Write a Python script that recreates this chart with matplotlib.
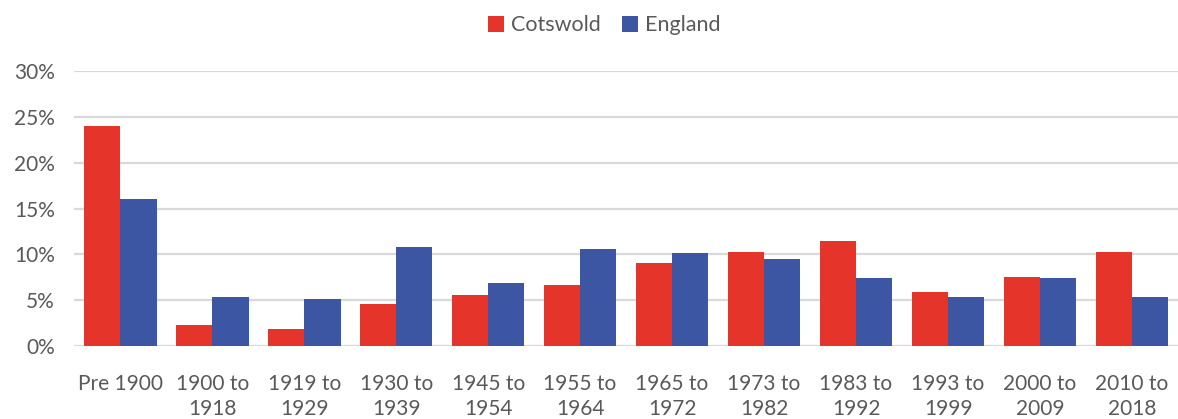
import matplotlib
matplotlib.use("Agg")
import matplotlib.pyplot as plt
import numpy as np

# data
categories = ["Pre 1900", "1900 to\n1918", "1919 to\n1929", "1930 to\n1939", "1945 to\n1954",
              "1955 to\n1964", "1965 to\n1972", "1973 to\n1982", "1983 to\n1992", "1993 to\n1999",
              "2000 to\n2009", "2010 to\n2018"]
cotswold = [24.0, 2.3, 1.9, 4.6, 5.6, 6.7, 9.1, 10.3, 11.5, 5.9, 7.5, 10.3]
england = [16.0, 5.4, 5.1, 10.8, 6.9, 10.6, 10.1, 9.5, 7.4, 5.3, 7.4, 5.4]
yticks = [0, 5, 10, 15, 20, 25, 30]

plt.rcParams["font.family"] = ["Lato", "DejaVu Sans"]
text_col = "#595959"

fig = plt.figure(figsize=(11.78, 4.19), dpi=100)
ax = fig.add_axes([0.063, 0.174, 0.937, 0.6565])

x = np.arange(len(categories))
w = 0.395
ax.bar(x - w / 2, cotswold, w, color="#E5352A", label="Cotswold", zorder=3)
ax.bar(x + w / 2, england, w, color="#3C56A4", label="England", zorder=3)

ax.set_xlim(-0.5, len(categories) - 0.5)
ax.set_ylim(0, 30)
ax.set_yticks(yticks)
ax.set_yticklabels(["%d%%" % t for t in yticks])
ax.set_xticks(x)
ax.set_xticklabels(categories, va="top", linespacing=1.35)
ax.tick_params(axis="both", length=0, labelsize=15, colors=text_col)
ax.tick_params(axis="x", pad=20)
ax.tick_params(axis="y", pad=14)
ax.grid(axis="y", color="#D9D9D9", linewidth=1.6, zorder=0)
for s in ax.spines.values():
    s.set_visible(False)

fig.legend(loc="upper center", bbox_to_anchor=(0.513, 1.01), ncol=2, frameon=False,
           fontsize=15.5, labelcolor=text_col, handlelength=0.75, handleheight=0.75,
           handletextpad=0.3, columnspacing=1.0)

fig.savefig("out.png", dpi=100)
